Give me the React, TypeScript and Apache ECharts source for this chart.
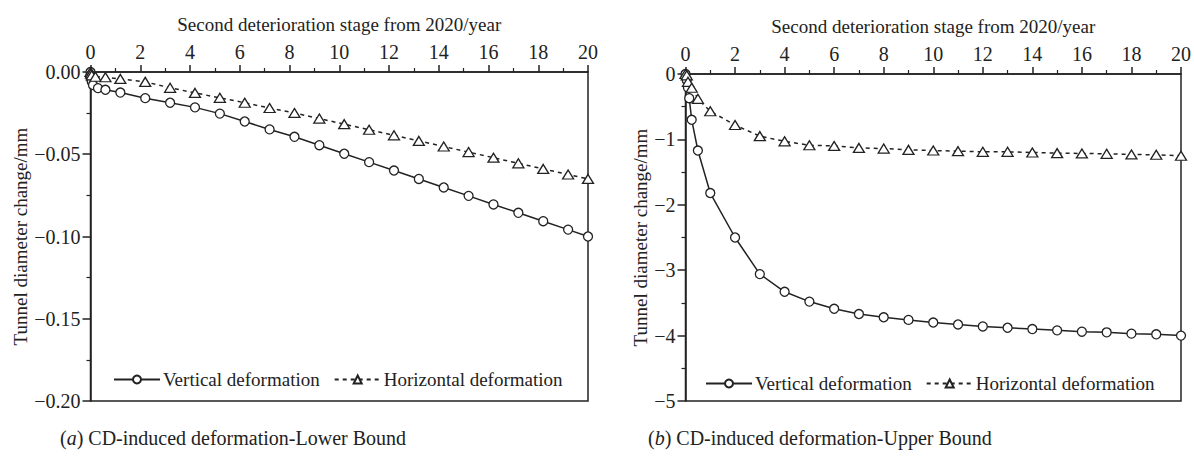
import React, { useEffect, useRef } from "react";
import * as echarts from "echarts";

const FONT = "'Liberation Serif', 'Times New Roman', serif";
const INK = "#222";

const xAxisTitle = "Second deterioration stage from 2020/year";
const yAxisTitle = "Tunnel diameter change/mm";
const seriesNames = ["Vertical deformation", "Horizontal deformation"];
const captionA = "CD-induced deformation-Lower Bound";
const captionB = "CD-induced deformation-Upper Bound";

// (a) Lower bound
const leftVertX = [0, 0.01, 0.02, 0.05, 0.1, 0.3, 0.6, 1.2, 2.2, 3.2, 4.2, 5.2, 6.2, 7.2, 8.2, 9.2, 10.2, 11.2, 12.2, 13.2, 14.2, 15.2, 16.2, 17.2, 18.2, 19.2, 20];
const leftVertY = [0, -0.002, -0.004, -0.006, -0.0079, -0.0098, -0.0108, -0.0125, -0.0159, -0.0187, -0.0215, -0.0253, -0.0301, -0.0349, -0.0394, -0.0445, -0.0497, -0.0548, -0.0599, -0.065, -0.0702, -0.0753, -0.0805, -0.0856, -0.0907, -0.0958, -0.1];
const leftHorX = [0, 0.02, 0.05, 0.2, 0.6, 1.2, 2.2, 3.2, 4.2, 5.2, 6.2, 7.2, 8.2, 9.2, 10.2, 11.2, 12.2, 13.2, 14.2, 15.2, 16.2, 17.2, 18.2, 19.2, 20];
const leftHorY = [0, -0.001, -0.002, -0.0029, -0.0032, -0.0042, -0.006, -0.0096, -0.0127, -0.0157, -0.0187, -0.0219, -0.0249, -0.0283, -0.0317, -0.0351, -0.0385, -0.0419, -0.0453, -0.0487, -0.0521, -0.0555, -0.0589, -0.0623, -0.065];

// (b) Upper bound
const rightVertX = [0, 0.05, 0.1, 0.15, 0.25, 0.5, 1, 2, 3, 4, 5, 6, 7, 8, 9, 10, 11, 12, 13, 14, 15, 16, 17, 18, 19, 20];
const rightVertY = [0, -0.09, -0.21, -0.37, -0.7, -1.17, -1.82, -2.5, -3.06, -3.33, -3.48, -3.59, -3.67, -3.72, -3.76, -3.8, -3.83, -3.86, -3.88, -3.9, -3.92, -3.94, -3.95, -3.97, -3.98, -4.0];
const rightHorX = [0, 0.05, 0.1, 0.25, 0.5, 1, 2, 3, 4, 5, 6, 7, 8, 9, 10, 11, 12, 13, 14, 15, 16, 17, 18, 19, 20];
const rightHorY = [0, -0.02, -0.12, -0.21, -0.38, -0.57, -0.78, -0.95, -1.03, -1.09, -1.1, -1.13, -1.14, -1.16, -1.17, -1.18, -1.19, -1.19, -1.2, -1.21, -1.215, -1.22, -1.23, -1.235, -1.25];

const xTickInterval = 2;
const leftYMin = -0.2;
const leftYInterval = 0.05;
const rightYMin = -5;
const rightYInterval = 1;

const pairs = (xs: number[], ys: number[]) => xs.map((x, i) => [x, ys[i]]);

function App() {
  const ref = useRef<HTMLDivElement>(null);
  useEffect(() => {
    if (!ref.current) return;
    const chart = echarts.init(ref.current, undefined, { renderer: "svg" });
    const axisLine = { show: true, onZero: false, lineStyle: { color: INK, width: 1.5 } };
    const xAxisCommon = (gridIndex: number) => ({
      type: "value",
      gridIndex,
      position: "top",
      min: 0,
      max: 20,
      interval: xTickInterval,
      name: xAxisTitle,
      nameLocation: "middle",
      nameGap: 38,
      nameTextStyle: { fontFamily: FONT, fontSize: 19, color: INK },
      axisLine,
      axisTick: { show: true, inside: false, length: 7, lineStyle: { color: INK, width: 1.5 } },
      minorTick: { show: true, splitNumber: 2, length: 4, lineStyle: { color: INK, width: 1.2 } },
      axisLabel: { fontFamily: FONT, fontSize: 20, color: INK, margin: 10 },
      splitLine: { show: false },
    });
    const yAxisCommon = (gridIndex: number, min: number, interval: number, fmt: (v: number) => string, gap: number) => ({
      type: "value",
      gridIndex,
      min,
      max: 0,
      interval,
      name: yAxisTitle,
      nameLocation: "middle",
      nameGap: gap,
      nameTextStyle: { fontFamily: FONT, fontSize: 19, color: INK },
      axisLine,
      axisTick: { show: true, inside: false, length: 8, lineStyle: { color: INK, width: 1.5 } },
      minorTick: { show: true, splitNumber: 2, length: 4, lineStyle: { color: INK, width: 1.2 } },
      axisLabel: { fontFamily: FONT, fontSize: 20, color: INK, margin: 10, formatter: fmt },
      splitLine: { show: false },
    });
    const vertSeries = (idx: number, data: number[][]) => ({
      name: seriesNames[0],
      type: "line",
      xAxisIndex: idx,
      yAxisIndex: idx,
      data,
      symbol: "circle",
      symbolSize: 9,
      showAllSymbol: true,
      itemStyle: { color: "#fff", borderColor: INK, borderWidth: 1.3 },
      lineStyle: { color: INK, width: 1.5, type: "solid" },
      z: 3,
    });
    const horSeries = (idx: number, data: number[][]) => ({
      name: seriesNames[1],
      type: "line",
      xAxisIndex: idx,
      yAxisIndex: idx,
      data,
      symbol: "triangle",
      symbolSize: [11, 9],
      showAllSymbol: true,
      itemStyle: { color: "#fff", borderColor: INK, borderWidth: 1.3 },
      lineStyle: { color: INK, width: 1.5, type: [4, 4] },
      z: 3,
    });
    const legendCommon = {
      orient: "horizontal",
      itemWidth: 46,
      itemHeight: 10,
      itemGap: 14,
      textStyle: { fontFamily: FONT, fontSize: 19, color: INK, padding: [0, 0, 0, -2] },
      data: seriesNames,
      selectedMode: false,
    };
    chart.setOption({
      animation: false,
      backgroundColor: "#fff",
      grid: [
        { left: 90.5, right: 606, top: 72, bottom: 62, show: true, borderColor: INK, borderWidth: 1.5, containLabel: false },
        { left: 685.5, right: 10, top: 74, bottom: 62, show: true, borderColor: INK, borderWidth: 1.5, containLabel: false },
      ],
      xAxis: [xAxisCommon(0), xAxisCommon(1)],
      yAxis: [
        yAxisCommon(0, leftYMin, leftYInterval, (v: number) => (v === 0 ? "0.00" : "\u2212" + Math.abs(v).toFixed(2)), 60),
        yAxisCommon(1, rightYMin, rightYInterval, (v: number) => (v === 0 ? "0" : "\u2212" + Math.abs(v)), 33),
      ],
      legend: [
        { ...legendCommon, left: 108, top: 365 },
        { ...legendCommon, left: 700, top: 369 },
      ],
      series: [
        vertSeries(0, pairs(leftVertX, leftVertY)),
        horSeries(0, pairs(leftHorX, leftHorY)),
        vertSeries(1, pairs(rightVertX, rightVertY)),
        horSeries(1, pairs(rightHorX, rightHorY)),
      ],
      graphic: [
        {
          type: "text",
          left: 60,
          top: 428,
          style: {
            text: "({i|a}) " + captionA,
            font: `20px ${FONT}`,
            fill: INK,
            rich: { i: { fontStyle: "italic", fontFamily: FONT, fontSize: 20 } },
          },
        },
        {
          type: "text",
          left: 648,
          top: 428,
          style: {
            text: "({i|b}) " + captionB,
            font: `20px ${FONT}`,
            fill: INK,
            rich: { i: { fontStyle: "italic", fontFamily: FONT, fontSize: 20 } },
          },
        },
      ],
    });
    return () => chart.dispose();
  }, []);
  return <div ref={ref} style={{ position: "fixed", left: 0, top: 0, width: 1194, height: 463, background: "#fff" }} />;
}

export default App;
